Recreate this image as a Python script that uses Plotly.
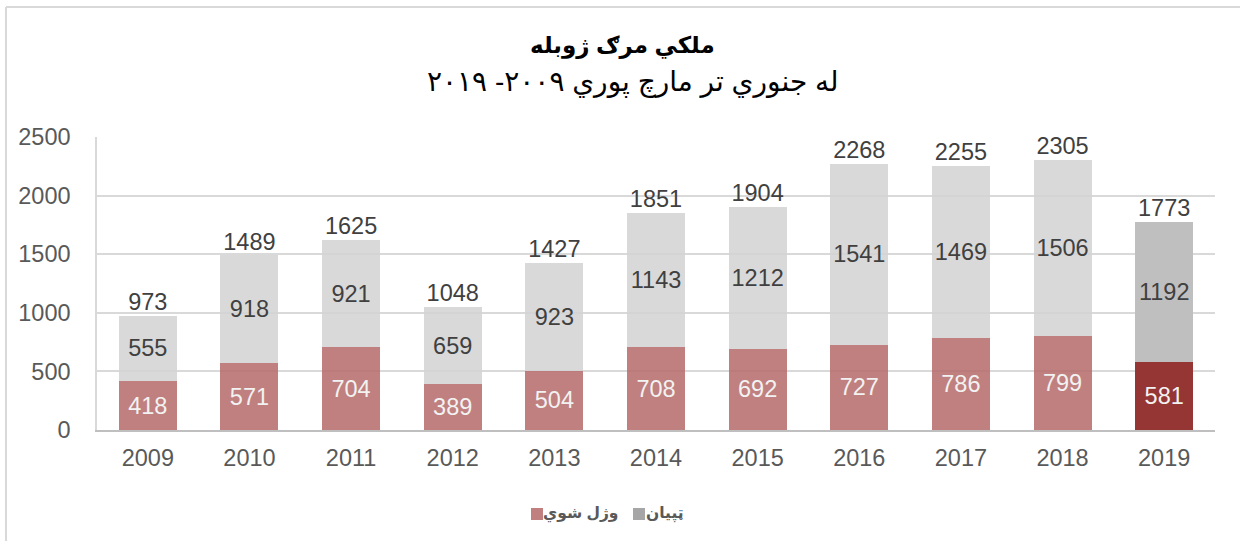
import plotly.graph_objects as go

years = ["2009", "2010", "2011", "2012", "2013", "2014", "2015", "2016", "2017", "2018", "2019"]
killed = [418, 571, 704, 389, 504, 708, 692, 727, 786, 799, 581]
wounded = [555, 918, 921, 659, 923, 1143, 1212, 1541, 1469, 1506, 1192]
totals = [k + w for k, w in zip(killed, wounded)]

name_killed = "وژل شوي"
name_wounded = "ټپیان"
title_main = "ملكي مرګ ژوبله"
title_sub = "له جنوري تر مارچ پوري ۲۰۰۹- ۲۰۱۹"

red = "rgba(181,106,105,0.85)"
red_last = "rgb(150,54,52)"
gray = "rgba(210,210,210,0.85)"
gray_last = "rgb(191,191,191)"
legend_red = "rgb(192,128,127)"
legend_gray = "rgb(166,166,166)"

killed_colors = [red] * (len(years) - 1) + [red_last]
wounded_colors = [gray] * (len(years) - 1) + [gray_last]

FONT = "Liberation Sans, Arial, DejaVu Sans, sans-serif"
LBL = 23.5

fig = go.Figure()
fig.add_trace(go.Bar(
    x=years, y=killed, marker=dict(color=killed_colors, line=dict(width=0)),
    text=[str(v) for v in killed], textposition="inside", insidetextanchor="middle",
    textangle=0, constraintext="none",
    textfont=dict(size=LBL, color="#F2F2F2", family=FONT),
    showlegend=False, hoverinfo="skip", name=name_killed,
))
fig.add_trace(go.Bar(
    x=years, y=wounded, marker=dict(color=wounded_colors, line=dict(width=0)),
    text=[str(v) for v in wounded], textposition="inside", insidetextanchor="middle",
    textangle=0, constraintext="none",
    textfont=dict(size=LBL, color="#404040", family=FONT),
    showlegend=False, hoverinfo="skip", name=name_wounded,
))
fig.add_trace(go.Scatter(
    x=years, y=totals, mode="text", text=[str(v) for v in totals],
    textposition="top center", textfont=dict(size=LBL, color="#404040", family=FONT),
    showlegend=False, hoverinfo="skip", cliponaxis=False,
))

L, R, T, B = 97, 25, 137, 111
W, H = 1240, 541
pw = W - L - R
ph = H - T - B


def px(x):
    return (x - L) / pw


def py(y):
    return (H - B - y) / ph


bx = px(6)
ty = py(7)

annotations = [
    dict(text="<b>" + title_main + "</b>", x=px(622), y=py(45),
         xanchor="center", yanchor="middle",
         font=dict(size=23, color="#000000", family=FONT)),
    dict(text=title_sub, x=px(633), y=py(82),
         xanchor="center", yanchor="middle",
         font=dict(size=28, color="#000000", family=FONT)),
    dict(text="<b>" + name_killed + "</b>", x=px(580), y=py(513),
         xanchor="center", yanchor="middle",
         font=dict(size=15.5, color="#595959", family=FONT)),
    dict(text="<b>" + name_wounded + "</b>", x=px(665), y=py(513),
         xanchor="center", yanchor="middle",
         font=dict(size=15.5, color="#595959", family=FONT)),
]
for a in annotations:
    a.update(xref="paper", yref="paper", showarrow=False)

shapes = [
    dict(type="line", x0=bx, x1=bx, y0=-1, y1=ty, line=dict(color="#D9D9D9", width=2)),
    dict(type="line", x0=bx, x1=1.2, y0=ty, y1=ty, line=dict(color="#D9D9D9", width=2)),
    dict(type="rect", x0=px(531), x1=px(543), y0=py(520), y1=py(508),
         fillcolor=legend_red, line=dict(width=0)),
    dict(type="rect", x0=px(633), x1=px(645), y0=py(520), y1=py(508),
         fillcolor=legend_gray, line=dict(width=0)),
]
for s in shapes:
    s.update(xref="paper", yref="paper")

fig.update_layout(
    width=W, height=H,
    margin=dict(l=L, r=R, t=T, b=B, autoexpand=False),
    barmode="stack", bargap=0.43,
    plot_bgcolor="white", paper_bgcolor="white",
    font=dict(family=FONT, color="#595959"),
    showlegend=False,
    xaxis=dict(
        type="category", range=[-0.5, len(years) - 0.5],
        showgrid=False, showline=True, linecolor="#BFBFBF", linewidth=1.5,
        ticks="", tickfont=dict(size=23.5, color="#595959"), ticklabelstandoff=6,
        automargin=False,
    ),
    yaxis=dict(
        range=[0, 2500], dtick=500, showgrid=True, gridcolor="#D9D9D9", gridwidth=1.5,
        showline=True, linecolor="#D9D9D9", linewidth=1.5, zeroline=False,
        ticks="", tickfont=dict(size=23.5, color="#595959"), ticklabelstandoff=20,
        automargin=False,
    ),
    annotations=annotations,
    shapes=shapes,
)

fig.write_html("out.html", config={"displayModeBar": False},
               post_script="document.body.style.margin='0';")
